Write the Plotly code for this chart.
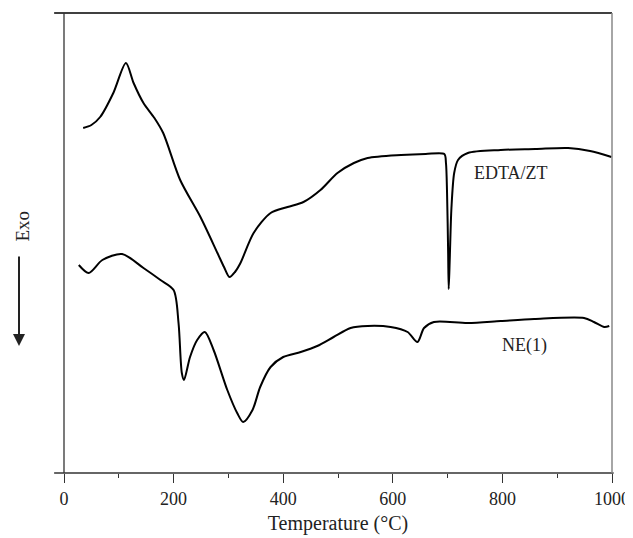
import plotly.graph_objects as go

# Temperature (°C) and DTA signal (arbitrary units, exo down arrow)
edta_T = [35, 50, 66, 90, 113, 127, 145, 165, 181, 212, 249, 280, 292, 302, 312, 322, 346, 377, 408, 437, 468, 499, 529, 554,
          615, 660, 694, 697, 699, 701, 702, 704, 707, 712, 719, 737, 797, 860, 920, 960, 999]
edta_v = [345, 348, 356, 380, 410, 390, 370, 355, 340, 293, 256, 220, 206, 196, 201, 210, 240, 260, 266, 271, 283, 300, 310, 315,
          318, 319, 319, 310, 280, 220, 184, 215, 265, 300, 313, 320, 323, 324, 325, 322, 316]

ne_T = [27, 45, 70, 106, 145, 176, 200, 209, 215, 219, 230, 243, 257, 273, 298, 316, 327, 344, 358, 377, 400, 432, 462, 492,
        523, 554, 596, 627, 645, 657, 675, 737, 797, 858, 949, 967, 986, 995]
ne_v = [208, 200, 213, 219, 205, 193, 183, 150, 100, 93, 116, 133, 141, 123, 83, 60, 51, 63, 86, 106, 116, 121, 127, 136,
        145, 147, 146, 141, 131, 145, 151, 150, 152, 154, 155, 151, 146, 147]

x_ticks = [0, 200, 400, 600, 800, 1000]
labels = ["EDTA/ZT", "NE(1)"]
label_T = [816, 841]
label_v = [300, 128]

FONT = "Liberation Serif, Times New Roman, serif"

fig = go.Figure()
fig.add_trace(go.Scatter(x=edta_T, y=edta_v, mode="lines",
                         line=dict(color="black", width=2, shape="spline", smoothing=0.8),
                         showlegend=False, hoverinfo="skip"))
fig.add_trace(go.Scatter(x=ne_T, y=ne_v, mode="lines",
                         line=dict(color="black", width=2, shape="spline", smoothing=0.8),
                         showlegend=False, hoverinfo="skip"))

# page body has an 8px margin, so the figure is sized/margined to land where the reference frame is
fig.update_layout(
    width=625, height=530,
    margin=dict(l=56, r=21, t=5, b=65, autoexpand=False),
    paper_bgcolor="white", plot_bgcolor="white",
    font=dict(family=FONT, size=18, color="#222"),
    xaxis=dict(range=[0, 1000], tickvals=x_ticks, ticks="outside", ticklen=9, tickwidth=1.3,
               tickcolor="#333", showline=False, showgrid=False, zeroline=False, automargin=False,
               tickfont=dict(size=18, family=FONT, color="#222"),
               minor=dict(dtick=100, ticks="outside", ticklen=4, tickwidth=1.3, tickcolor="#333"),
               title=dict(text="Temperature (°C)", font=dict(size=20, family=FONT, color="#222"), standoff=8)),
    yaxis=dict(range=[0, 460], showticklabels=False, ticks="", showgrid=False, zeroline=False,
               showline=False, automargin=False),
)

# frame lines
fig.add_shape(type="line", xref="paper", yref="paper", x0=-0.018, x1=1.0, y0=1, y1=1,
              line=dict(color="black", width=1.5))
fig.add_shape(type="line", xref="paper", yref="paper", x0=-0.018, x1=1.003, y0=0, y1=0,
              line=dict(color="#333", width=1.5))
fig.add_shape(type="line", xref="paper", yref="paper", x0=0, x1=0, y0=0, y1=1,
              line=dict(color="#333", width=1.3))
fig.add_shape(type="line", xref="paper", yref="paper", x0=1.0, x1=1.0, y0=0, y1=1,
              line=dict(color="#888", width=1.5))

# curve labels
for t, v, s in zip(label_T, label_v, labels):
    fig.add_annotation(x=t, y=v, text=s, showarrow=False, xanchor="center",
                       font=dict(size=18, family=FONT, color="#222"))

# Exo label with arrow
fig.add_annotation(xref="paper", yref="paper", x=(21.5 - 64) / 548, y=(473 - 226) / 460, text="Exo",
                   xanchor="center", yanchor="middle",
                   textangle=-90, showarrow=False, font=dict(size=19, family=FONT, color="#222"))
fig.add_annotation(xref="paper", yref="paper", x=(19 - 64) / 548, y=(473 - 346) / 460, text="",
                   showarrow=True, axref="pixel", ayref="pixel", ax=0, ay=-91,
                   arrowhead=2, arrowsize=1.2, arrowwidth=2, arrowcolor="#222")

fig.write_html("out.html")
